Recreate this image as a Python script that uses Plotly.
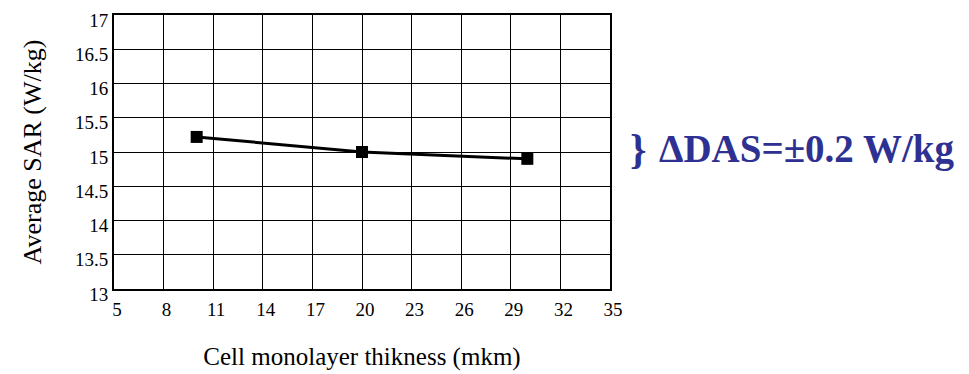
import plotly.graph_objects as go

thickness = [10, 20, 30]
sar = [15.22, 15.0, 14.9]
x_ticks = [5, 8, 11, 14, 17, 20, 23, 26, 29, 32, 35]
y_ticks = [13, 13.5, 14, 14.5, 15, 15.5, 16, 16.5, 17]
y_tick_text = ["13", "13.5", "14", "14.5", "15", "15.5", "16", "16.5", "17"]

fig = go.Figure()
fig.add_trace(go.Scatter(
    x=thickness, y=sar, mode="lines+markers",
    line=dict(color="black", width=3),
    marker=dict(symbol="square", size=12, color="black"),
    showlegend=False,
))

serif = "Liberation Serif"
fig.update_layout(
    width=969, height=374,
    margin=dict(l=106, r=367, t=7, b=93),
    paper_bgcolor="white", plot_bgcolor="white",
    font=dict(family=serif, size=19, color="black"),
    xaxis=dict(
        range=[5, 35], tickvals=x_ticks, ticktext=[str(v) for v in x_ticks],
        showgrid=True, gridcolor="black", gridwidth=1,
        showline=True, linecolor="black", linewidth=2, mirror=True,
        ticks="", zeroline=False, ticklabelstandoff=2, ticklabelshift=3,
        automargin=False, ticklabeloverflow="allow",
        tickfont=dict(family=serif, size=19),
        title=dict(text="Cell monolayer thikness (mkm)", font=dict(size=25, family=serif), standoff=29),
    ),
    yaxis=dict(
        range=[13, 17], tickvals=y_ticks, ticktext=y_tick_text,
        showgrid=True, gridcolor="black", gridwidth=1,
        showline=True, linecolor="black", linewidth=2, mirror=True,
        ticks="", zeroline=False, ticklabelstandoff=0, ticklabelshift=5,
        automargin=False, ticklabeloverflow="allow",
        tickfont=dict(family=serif, size=19),
        title=dict(text="Average SAR (W/kg)", font=dict(size=26, family=serif), standoff=26),
    ),
)

fig.add_annotation(
    xref="paper", yref="paper", x=1.0, y=0.5, xshift=18, yshift=3, xanchor="left", yanchor="middle",
    text="<b>}</b>", showarrow=False,
    font=dict(family=serif, size=42, color="#2E3192"),
)
fig.add_annotation(
    xref="paper", yref="paper", x=1.0, y=0.5, xshift=47, yshift=3, xanchor="left", yanchor="middle",
    text="<b>ΔDAS=±0.2 W/kg</b>", showarrow=False,
    font=dict(family=serif, size=39, color="#2E3192"),
)

fig.write_html("out.html")
